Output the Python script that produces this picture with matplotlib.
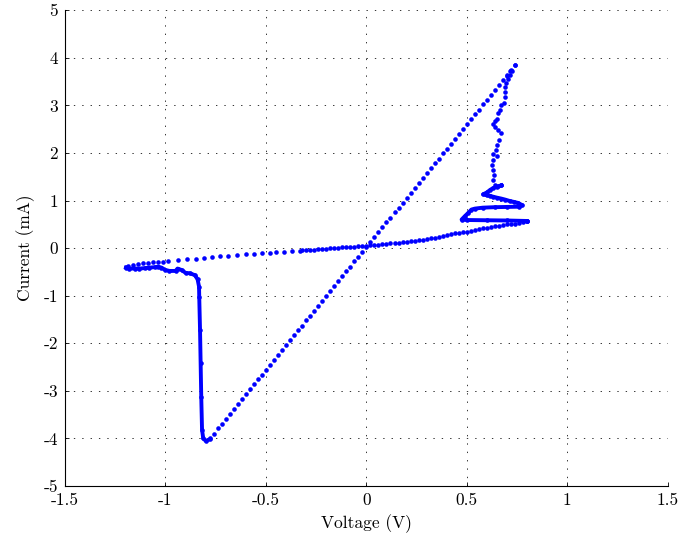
import matplotlib
matplotlib.use("Agg")
import matplotlib.pyplot as plt

plt.rcParams["font.family"] = ["cmr10", "DejaVu Serif"]
plt.rcParams["axes.unicode_minus"] = False
plt.rcParams["mathtext.fontset"] = "cm"

# linear sweep from the negative peak up to the positive peak
up_v = [-0.78, -0.76, -0.74, -0.72, -0.70, -0.68, -0.66, -0.64, -0.62, -0.60,
        -0.58, -0.56, -0.54, -0.52, -0.50, -0.48, -0.46, -0.44, -0.42, -0.40,
        -0.38, -0.36, -0.34, -0.32, -0.30, -0.28, -0.26, -0.24, -0.22, -0.20,
        -0.18, -0.16, -0.14, -0.12, -0.10, -0.08, -0.06, -0.04, -0.02, 0.00,
        0.02, 0.04, 0.06, 0.08, 0.10, 0.12, 0.14, 0.16, 0.18, 0.20,
        0.22, 0.24, 0.26, 0.28, 0.30, 0.32, 0.34, 0.36, 0.38, 0.40,
        0.42, 0.44, 0.46, 0.48, 0.50, 0.52, 0.54, 0.56, 0.58, 0.60,
        0.62, 0.64, 0.66, 0.68, 0.70, 0.72, 0.74]
up_i = [-4.00, -3.90, -3.79, -3.69, -3.59, -3.48, -3.38, -3.28, -3.17, -3.07,
        -2.97, -2.86, -2.76, -2.66, -2.56, -2.45, -2.35, -2.25, -2.14, -2.04,
        -1.94, -1.83, -1.73, -1.63, -1.52, -1.42, -1.32, -1.21, -1.11, -1.01,
        -0.90, -0.80, -0.70, -0.59, -0.49, -0.39, -0.28, -0.18, -0.08, 0.02,
        0.13, 0.23, 0.33, 0.44, 0.54, 0.64, 0.75, 0.85, 0.95, 1.06,
        1.16, 1.26, 1.37, 1.47, 1.57, 1.68, 1.78, 1.88, 1.99, 2.09,
        2.19, 2.30, 2.40, 2.50, 2.60, 2.71, 2.81, 2.91, 3.02, 3.12,
        3.22, 3.33, 3.43, 3.53, 3.64, 3.74, 3.84]

# wobbly descent from the positive peak
top_v = [0.739, 0.727, 0.717, 0.717, 0.700, 0.704, 0.697, 0.692, 0.692, 0.689,
         0.684, 0.672, 0.664, 0.656, 0.648, 0.639, 0.628, 0.639, 0.656, 0.672,
         0.661, 0.648, 0.644, 0.631, 0.648, 0.631, 0.623, 0.631, 0.634, 0.628,
         0.639, 0.656, 0.672]
top_i = [3.84, 3.72, 3.72, 3.63, 3.61, 3.56, 3.47, 3.38, 3.28, 3.18,
         3.05, 3.00, 2.91, 2.83, 2.72, 2.67, 2.61, 2.55, 2.48, 2.42,
         2.28, 2.16, 2.06, 1.97, 1.93, 1.85, 1.74, 1.64, 1.53, 1.43,
         1.32, 1.30, 1.32]

# dense zigzag near 0.5-0.8 V
zig_v = [0.672, 0.650, 0.630, 0.615, 0.600, 0.581, 0.598, 0.615, 0.631, 0.650,
         0.672, 0.690, 0.714, 0.735, 0.755, 0.777, 0.760, 0.700, 0.640, 0.580,
         0.540, 0.523, 0.507, 0.490, 0.474, 0.500, 0.600, 0.700, 0.800, 0.800]
zig_i = [1.32, 1.29, 1.26, 1.22, 1.17, 1.13, 1.11, 1.10, 1.08, 1.06,
         1.04, 1.02, 0.99, 0.97, 0.95, 0.90, 0.87, 0.865, 0.86, 0.85,
         0.83, 0.81, 0.74, 0.67, 0.60, 0.59, 0.585, 0.58, 0.57, 0.56]

# low branch sweeping back to negative voltage
low_v = [0.80, 0.78, 0.76, 0.74, 0.72, 0.70, 0.68, 0.66, 0.64, 0.62,
         0.60, 0.58, 0.56, 0.54, 0.52, 0.50, 0.48, 0.46, 0.44, 0.42,
         0.40, 0.38, 0.36, 0.34, 0.32, 0.30, 0.28, 0.26, 0.24, 0.22,
         0.20, 0.18, 0.16, 0.14, 0.12, 0.10, 0.08, 0.06, 0.04, 0.02,
         0.00, -0.02, -0.04, -0.06, -0.08, -0.10, -0.12, -0.14, -0.16, -0.18,
         -0.20, -0.22, -0.24, -0.26, -0.28, -0.30, -0.32, -0.33, -0.37, -0.41,
         -0.45, -0.48, -0.52, -0.56, -0.60, -0.646, -0.69, -0.73, -0.77, -0.81,
         -0.85, -0.895, -0.936, -0.986, -1.01, -1.036, -1.06, -1.085, -1.11, -1.135,
         -1.16, -1.185, -1.197]
low_i = [0.56, 0.545, 0.53, 0.515, 0.505, 0.50, 0.485, 0.47, 0.455, 0.44,
         0.43, 0.415, 0.40, 0.385, 0.36, 0.345, 0.335, 0.325, 0.31, 0.29,
         0.275, 0.255, 0.24, 0.22, 0.205, 0.19, 0.175, 0.165, 0.155, 0.145,
         0.135, 0.125, 0.115, 0.105, 0.10, 0.09, 0.085, 0.075, 0.065, 0.055,
         0.045, 0.04, 0.035, 0.03, 0.025, 0.02, 0.015, 0.01, 0.005, 0.0,
         -0.01, -0.015, -0.025, -0.03, -0.04, -0.045, -0.05, -0.055, -0.07, -0.08,
         -0.09, -0.10, -0.11, -0.13, -0.13, -0.15, -0.16, -0.17, -0.18, -0.20,
         -0.22, -0.22, -0.24, -0.27, -0.29, -0.29, -0.30, -0.31, -0.32, -0.34,
         -0.36, -0.38, -0.40]

# return along the bottom and the sharp drop to the negative peak
drop_v = [-1.197, -1.18, -1.15, -1.13, -1.10, -1.08, -1.05, -1.036, -1.02, -1.00,
          -0.98, -0.95, -0.94, -0.92, -0.90, -0.878, -0.853, -0.84, -0.833, -0.832,
          -0.828, -0.825, -0.822, -0.818, -0.812, -0.80, -0.78]
drop_i = [-0.41, -0.43, -0.43, -0.43, -0.42, -0.41, -0.40, -0.39, -0.41, -0.46,
          -0.48, -0.48, -0.43, -0.46, -0.52, -0.53, -0.57, -0.66, -0.81, -1.02,
          -1.72, -2.42, -3.12, -3.82, -4.00, -4.05, -4.02]

x_ticks = [-1.5, -1, -0.5, 0, 0.5, 1, 1.5]
x_tick_labels = ["-1.5", "-1", "-0.5", "0", "0.5", "1", "1.5"]
y_ticks = [-5, -4, -3, -2, -1, 0, 1, 2, 3, 4, 5]
y_tick_labels = ["-5", "-4", "-3", "-2", "-1", "0", "1", "2", "3", "4", "5"]

fig = plt.figure(figsize=(6.97, 5.37), dpi=100)
ax = fig.add_axes([0.0933, 0.095, 0.8647, 0.886])

blue = (0, 0, 1)
ms = 3.3
# sparse parts: separate dots
ax.plot(up_v, up_i, "o", color=blue, ms=ms, mew=0)
ax.plot(top_v, top_i, "o", color=blue, ms=ms, mew=0)
ax.plot(low_v, low_i, "o", color=blue, ms=ms, mew=0)
# dense parts: dots close enough to merge
ax.plot(zig_v, zig_i, "-o", color=blue, ms=ms, mew=0, lw=2.8)
ax.plot(drop_v, drop_i, "-o", color=blue, ms=ms, mew=0, lw=2.8)

ax.set_xlim(-1.5, 1.5)
ax.set_ylim(-5, 5)
ax.set_xticks(x_ticks)
ax.set_xticklabels(x_tick_labels)
ax.set_yticks(y_ticks)
ax.set_yticklabels(y_tick_labels)
ax.tick_params(direction="in", length=3, width=0.6, labelsize=12.5, pad=5)

for side in ["top", "right"]:
    ax.spines[side].set_visible(False)
for side in ["left", "bottom"]:
    ax.spines[side].set_linewidth(0.8)

ax.grid(True, color="0.2", linewidth=0.7, linestyle=(0, (1.4, 7.2)))
ax.set_axisbelow(True)

ax.set_xlabel("Voltage (V)", fontsize=12.5, labelpad=4)
ax.set_ylabel("Current (mA)", fontsize=12.5, labelpad=6)

fig.savefig("out.png", dpi=100)
